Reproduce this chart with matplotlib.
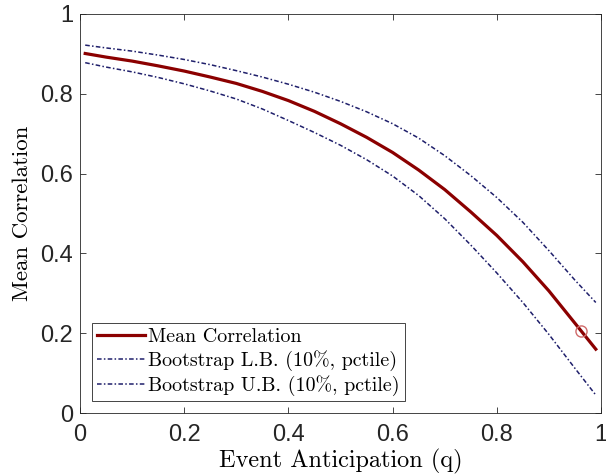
import numpy as np
import matplotlib.pyplot as plt

plt.rcParams['font.family'] = ['Liberation Sans', 'DejaVu Sans']
plt.rcParams['axes.formatter.use_mathtext'] = True

q = [0.01, 0.05, 0.10, 0.15, 0.20, 0.25, 0.30, 0.35, 0.40, 0.45, 0.50,
     0.55, 0.60, 0.65, 0.70, 0.75, 0.80, 0.85, 0.90, 0.95, 0.99]
mean_corr = [0.901, 0.892, 0.882, 0.870, 0.857, 0.842, 0.826, 0.806, 0.783, 0.756, 0.725,
             0.691, 0.653, 0.609, 0.560, 0.504, 0.445, 0.379, 0.306, 0.225, 0.160]
upper_b = [0.922, 0.915, 0.907, 0.897, 0.886, 0.873, 0.858, 0.842, 0.824, 0.804, 0.781,
           0.755, 0.725, 0.689, 0.645, 0.595, 0.540, 0.478, 0.407, 0.333, 0.277]
lower_b = [0.878, 0.867, 0.855, 0.841, 0.825, 0.807, 0.787, 0.762, 0.733, 0.703, 0.671,
           0.635, 0.594, 0.545, 0.487, 0.421, 0.351, 0.277, 0.197, 0.112, 0.045]
marker_q = 0.962
marker_r = 0.205

red = '#8b0000'
navy = '#1f1f6b'

fig = plt.figure(figsize=(6.06, 4.75), dpi=100)
ax = fig.add_axes([80/606, 1-413/475, 521/606, 399/475])

ax.plot(q, mean_corr, color=red, lw=2.3, label='Mean Correlation')
ax.plot(q, lower_b, color=navy, lw=1.1, ls=(0, (3, 1.5, 1, 1.5)),
        label='Bootstrap L.B. (10%, pctile)')
ax.plot(q, upper_b, color=navy, lw=1.1, ls=(0, (3, 1.5, 1, 1.5)),
        label='Bootstrap U.B. (10%, pctile)')
ax.plot(marker_q, marker_r, 'o', mfc='none', mec='#d06a6a', ms=8, mew=1)

ax.set_xlim(0, 1)
ax.set_ylim(0, 1)
ax.set_xticks(np.arange(0, 1.01, 0.2))
ax.set_yticks(np.arange(0, 1.01, 0.2))
ax.set_xticklabels(['0', '0.2', '0.4', '0.6', '0.8', '1'])
ax.set_yticklabels(['0', '0.2', '0.4', '0.6', '0.8', '1'])
ax.tick_params(direction='in', top=True, right=True, labelsize=17, colors='#262626',
               length=4, width=0.6, pad=5)
ax.tick_params(axis='x', pad=8)
for s in ax.spines.values():
    s.set_color('#262626')
    s.set_linewidth(0.6)

ax.set_xlabel('Event Anticipation (q)', family='cmr10', fontsize=17.5, labelpad=2)
ax.set_ylabel('Mean Correlation', family='cmr10', fontsize=16.5, labelpad=6)

leg = ax.legend(loc='lower left', prop={'family': 'cmr10', 'size': 14.4},
                fancybox=False, edgecolor='#262626', framealpha=1,
                handlelength=2.4, handletextpad=0.15, borderpad=0.25,
                labelspacing=0.22, borderaxespad=0.6)
leg.get_frame().set_linewidth(0.6)

fig.savefig('out.png', dpi=100)
